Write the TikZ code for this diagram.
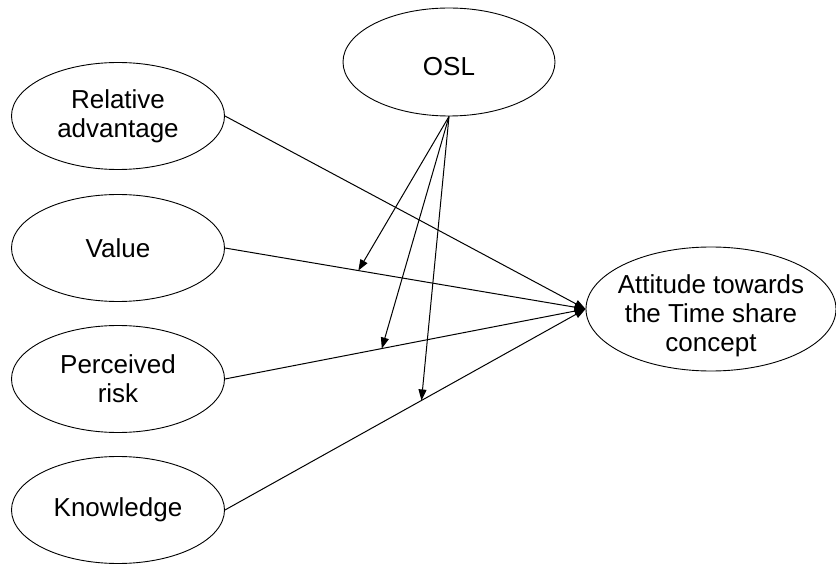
\documentclass[tikz,border=0pt]{standalone}
\usepackage{fontspec}
\setmainfont{Liberation Sans}
\usetikzlibrary{shapes.geometric,arrows.meta}
\begin{document}
\begin{tikzpicture}[x=1pt,y=-1pt,
  txt/.style={inner sep=0pt,align=center,font=\fontsize{26}{29}\selectfont},
  construct/.style={ellipse,draw,line width=0.9pt,txt,minimum width=213pt,minimum height=107pt},
  link/.style={line width=1pt,-{Triangle[length=11pt,width=8pt]}}]
\useasboundingbox (0,0) rectangle (836,564);
\node[construct] (ra) at (118,116) {Relative\\advantage};
\node[construct] (val) at (118,248) {Value};
\node[construct] (pr) at (118,379) {Perceived\\risk};
\node[construct] (kn) at (118,510) {Knowledge};
\node[construct,minimum width=212pt,minimum height=108pt] (osl) at (449,62) {};
\node[txt] (osltext) at (449,67) {OSL};
\node[construct,minimum width=250pt,minimum height=124pt] (att) at (711,309) {};
\node[txt] (atttext) at (711,316) {Attitude towards\\the Time share\\concept};
\draw[link] (ra.east) -- (att.west);
\draw[link] (val.east) -- (att.west) coordinate[pos=0.37] (m1);
\draw[link] (pr.east) -- (att.west) coordinate[pos=0.435] (m2);
\draw[link] (kn.east) -- (att.west) coordinate[pos=0.545] (m3);
\draw[link] (osl.south) -- (m1);
\draw[link] (osl.south) -- (m2);
\draw[link] (osl.south) -- (m3);
\end{tikzpicture}
\end{document}
